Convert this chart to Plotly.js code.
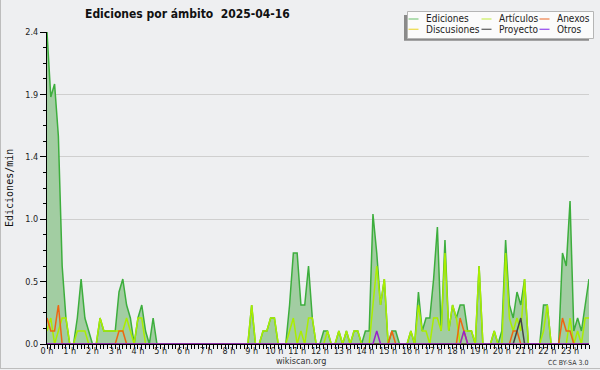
<!DOCTYPE html>
<html><head><meta charset="utf-8">
<script src="https://cdn.plot.ly/plotly-3.0.1.min.js"></script>
<style>html,body{margin:0;padding:0;background:#eeeff1;}#chart{width:600px;height:370px;}</style>
</head><body><div id="chart"></div>
<script>
// 10-minute slots, 6 per hour (one row per hour: 0 h ... 23 h)
const hourLabels = ['0 h','1 h','2 h','3 h','4 h','5 h','6 h','7 h','8 h','9 h','10 h','11 h',
  '12 h','13 h','14 h','15 h','16 h','17 h','18 h','19 h','20 h','21 h','22 h','23 h'];

const ediciones = [
  2.4,1.9,2.0,1.6,0.6,0.2,
  0,0,0.2,0.5,0.2,0.1,
  0,0,0.2,0.1,0.1,0.1,
  0.1,0.4,0.5,0.3,0.2,0,
  0.2,0.3,0.1,0,0.2,0,
  0,0,0,0,0,0,
  0,0,0,0,0,0,
  0,0,0,0,0,0,
  0,0,0,0,0,0,
  0.3,0,0,0.1,0.1,0.2,
  0.2,0,0,0,0.3,0.7,
  0.7,0.3,0.3,0.6,0.2,0,
  0,0.1,0.1,0,0,0.1,
  0,0.1,0,0.1,0.1,0,
  0.1,0.1,1.0,0.7,0.3,0.5,
  0,0.1,0.1,0,0,0,
  0.1,0,0.4,0.1,0.2,0.2,
  0.5,0.9,0.1,0.8,0.1,0.3,
  0.2,0.3,0.3,0.1,0.1,0,
  0.6,0,0,0,0.1,0,
  0.1,0.8,0.3,0.2,0.4,0.3,
  0.5,0,0,0,0,0.3,
  0.3,0,0,0,0.7,0.6,
  1.1,0.1,0.2,0.1,0.3,0.5
];
const articulos = [
  0.1,0.2,0,0.1,0.2,0.2,
  0,0,0.1,0.1,0.1,0,
  0,0,0.2,0.1,0.1,0.1,
  0.1,0.1,0.1,0.2,0.1,0,
  0.2,0.2,0,0,0,0,
  0,0,0,0,0,0,
  0,0,0,0,0,0,
  0,0,0,0,0,0,
  0,0,0,0,0,0,
  0.3,0,0,0.1,0.1,0.2,
  0.2,0,0,0,0.1,0.2,
  0,0.1,0,0.2,0.2,0,
  0,0,0.1,0,0,0.1,
  0,0.1,0,0.1,0.1,0,
  0,0,0.3,0.6,0.3,0.5,
  0,0,0,0,0,0,
  0.1,0,0.3,0.1,0.1,0,
  0.2,0.2,0.1,0.7,0.1,0.3,
  0.2,0,0.1,0.1,0.1,0,
  0.6,0,0,0,0.1,0,
  0,0.7,0.2,0.1,0.2,0.1,
  0.5,0,0,0,0,0.1,
  0.3,0,0,0,0,0,
  0.2,0,0.1,0,0.2,0.2
];
const anexos = [
  0.2,0.1,0.1,0.3,0,0,
  0,0,0,0,0,0,
  0,0,0,0,0,0,
  0,0.1,0.1,0,0,0,
  0,0,0,0,0,0,
  0,0,0,0,0,0,
  0,0,0,0,0,0,
  0,0,0,0,0,0,
  0,0,0,0,0,0,
  0,0,0,0,0,0,
  0,0,0,0,0,0,
  0,0,0,0,0,0,
  0,0,0,0,0,0,
  0,0,0,0,0,0,
  0,0,0,0,0,0,
  0,0.1,0,0,0,0,
  0,0,0,0,0,0,
  0,0,0,0,0,0,
  0,0.2,0.1,0,0,0,
  0,0,0,0,0,0,
  0,0,0,0.1,0.1,0,
  0,0,0,0,0,0,
  0,0,0,0,0.2,0.1,
  0.1,0,0,0,0,0
];
const discusiones = [
  0,0,0,0,0,0, 0,0,0,0,0,0, 0,0,0,0,0,0, 0,0,0,0,0,0,
  0,0,0,0,0,0, 0,0,0,0,0,0, 0,0,0,0,0,0, 0,0,0,0,0,0,
  0,0,0,0,0,0, 0,0,0,0,0,0, 0,0,0,0,0,0, 0,0,0,0,0,0,
  0,0,0,0,0,0, 0,0,0,0,0,0, 0,0,0,0,0,0, 0,0,0,0,0,0,
  0,0,0,0,0,0, 0,0,0,0,0,0, 0,0,0,0,0,0, 0,0,0,0,0,0,
  0,0,0,0,0,0, 0,0,0,0,0,0, 0,0,0,0,0,0, 0,0,0,0,0,0
];
const proyecto = [
  0,0,0,0,0,0, 0,0,0,0,0,0, 0,0,0,0,0,0, 0,0,0,0,0,0,
  0,0,0,0,0,0, 0,0,0,0,0,0, 0,0,0,0,0,0, 0,0,0,0,0,0,
  0,0,0,0,0,0, 0,0,0,0,0,0, 0,0,0,0,0,0, 0,0,0,0,0,0,
  0,0,0,0,0,0, 0,0,0,0,0,0, 0,0,0,0,0,0, 0,0,0,0,0,0,
  0,0,0,0,0,0, 0,0,0,0,0,0, 0,0,0,0,0,0, 0,0,0,0,0,0,
  0,0,0,0,0.1,0.2, 0,0,0,0,0,0, 0,0,0,0,0,0, 0,0,0,0,0,0
];
const otros = [
  0,0,0,0,0,0, 0,0,0,0,0,0, 0,0,0,0,0,0, 0,0,0,0,0,0,
  0,0,0,0,0,0, 0,0,0,0,0,0, 0,0,0,0,0,0, 0,0,0,0,0,0,
  0,0,0,0,0,0, 0,0,0,0,0,0, 0,0,0,0,0,0, 0,0,0,0,0,0,
  0,0,0,0,0,0, 0,0,0,0,0,0, 0,0,0,0.1,0,0, 0,0,0,0,0,0,
  0,0,0,0,0,0, 0,0,0,0,0,0, 0,0,0.1,0,0,0, 0,0,0,0,0,0,
  0,0,0,0,0,0, 0,0,0,0,0,0, 0,0,0,0,0,0, 0,0,0,0,0,0
];
const yTickVals = [0, 0.48, 0.96, 1.44, 1.92, 2.4];
const yTickText = ['0.0', '0.5', '1.0', '1.4', '1.9', '2.4'];

const FONT = 'DejaVu Sans Condensed, DejaVu Sans, sans-serif';
const slotHours = ediciones.map((_, i) => i / 6);

function line(name, y, color) {
  return {type: 'scatter', mode: 'lines', name: name, x: slotHours, y: y,
    line: {color: color, width: 1.5}, hoverinfo: 'skip', showlegend: false};
}
const traces = [
  {type: 'scatter', mode: 'lines', name: 'Ediciones', x: slotHours, y: ediciones,
   fill: 'tozeroy', fillcolor: '#a2cda2', line: {color: '#3dae3d', width: 1.5},
   hoverinfo: 'skip', showlegend: false},
  line('Artículos', articulos, '#aaee00'),
  line('Discusiones', discusiones, '#eecc33'),
  line('Anexos', anexos, '#ee6611'),
  line('Proyecto', proyecto, '#444444'),
  line('Otros', otros, '#9922cc')
];

// pixel -> paper helpers for decorations
const L = 47, W = 542, T = 32, H = 312;
const xp = px => (px - L) / W;
const yp = py => (T + H - py) / H;

const legendItems = [
  {name: 'Ediciones', color: '#88cc88', col: 0, row: 0},
  {name: 'Artículos', color: '#ccee66', col: 1, row: 0},
  {name: 'Anexos', color: '#ee8855', col: 2, row: 0},
  {name: 'Discusiones', color: '#eedd55', col: 0, row: 1},
  {name: 'Proyecto', color: '#666666', col: 1, row: 1},
  {name: 'Otros', color: '#9955ee', col: 2, row: 1}
];
const colX = [408.5, 481.5, 539.5];
const rowY = [19, 29.3];

const shapes = [
  // outer frame
  {type: 'line', xref: 'paper', yref: 'paper', x0: xp(0.5), x1: xp(0.5), y0: yp(0), y1: yp(368.5), line: {color: '#bdbdbd', width: 1}},
  {type: 'line', xref: 'paper', yref: 'paper', x0: xp(0), x1: xp(600), y0: yp(368.5), y1: yp(368.5), line: {color: '#bdbdbd', width: 1}},
  // legend shadow + box
  {type: 'rect', xref: 'paper', yref: 'paper', x0: xp(404), x1: xp(589), y0: yp(15), y1: yp(40.7), fillcolor: '#8a8a8a', line: {width: 0}},
  {type: 'rect', xref: 'paper', yref: 'paper', x0: xp(407.5), x1: xp(593.5), y0: yp(11.5), y1: yp(38.5), fillcolor: '#fbfbfb', line: {color: '#b5b5b5', width: 1}}
];
const annotations = [
  {xref: 'paper', yref: 'paper', x: xp(9), y: yp(188), text: 'Ediciones/min', textangle: -90, showarrow: false,
   font: {family: 'DejaVu Sans Mono, monospace', size: 10, color: '#111'}, xanchor: 'center', yanchor: 'middle'},
  {xref: 'paper', yref: 'paper', x: xp(300.5), y: yp(361), text: 'wikiscan.org', showarrow: false,
   font: {family: FONT, size: 9, color: '#333'}, xanchor: 'center', yanchor: 'middle'},
  {xref: 'paper', yref: 'paper', x: xp(590), y: yp(362.5), text: 'CC BY-SA 3.0', showarrow: false,
   font: {family: FONT, size: 7, color: '#333'}, xanchor: 'right', yanchor: 'middle'}
];
legendItems.forEach(it => {
  const x0 = colX[it.col], y0 = rowY[it.row];
  shapes.push({type: 'line', xref: 'paper', yref: 'paper', x0: xp(x0), x1: xp(x0 + 10), y0: yp(y0), y1: yp(y0),
    line: {color: it.color, width: 1.3}});
  annotations.push({xref: 'paper', yref: 'paper', x: xp(x0 + 15.5), y: yp(y0), text: it.name, showarrow: false,
    font: {family: FONT, size: 10, color: '#222'}, xanchor: 'left', yanchor: 'middle'});
});

const layout = {
  width: 600, height: 370,
  margin: {l: L, r: 600 - L - W, t: T, b: 370 - T - H, pad: 0},
  paper_bgcolor: '#eeeff1', plot_bgcolor: '#eeeff1',
  title: {text: 'Ediciones por ámbito\u00a0\u00a02025-04-16', x: 85 / 600, xanchor: 'left', xref: 'container',
    y: 1 - 14 / 370, yref: 'container', yanchor: 'middle',
    font: {family: FONT, size: 12, weight: 700, color: '#111'}},
  xaxis: {range: [0, 143 / 6], tickmode: 'array', tickvals: hourLabels.map((_, h) => h), ticktext: hourLabels,
    ticks: 'outside', ticklen: 4, tickcolor: '#000', tickwidth: 1, ticklabelstandoff: -6,
    showline: true, linecolor: '#000', linewidth: 1, showgrid: false, zeroline: false,
    tickfont: {family: FONT, size: 9, color: '#222'},
    minor: {dtick: 1 / 6, tick0: 0, ticks: 'outside', ticklen: 4, tickcolor: '#000', tickwidth: 1, showgrid: false},
    fixedrange: true},
  yaxis: {range: [0, 2.4], tickmode: 'array', tickvals: yTickVals, ticktext: yTickText,
    ticks: 'outside', ticklen: 6, tickcolor: '#000', tickwidth: 1,
    showline: true, linecolor: '#000', linewidth: 1, showgrid: true, gridcolor: '#cfcfcf', gridwidth: 1, zeroline: false,
    tickfont: {family: FONT, size: 9, color: '#222'},
    minor: {dtick: 0.12, tick0: 0, ticks: 'outside', ticklen: 3, tickcolor: '#000', tickwidth: 1, showgrid: false},
    fixedrange: true},
  showlegend: false,
  shapes: shapes,
  annotations: annotations
};
Plotly.newPlot('chart', traces, layout, {displayModeBar: false, staticPlot: true});
</script>
</body></html>
